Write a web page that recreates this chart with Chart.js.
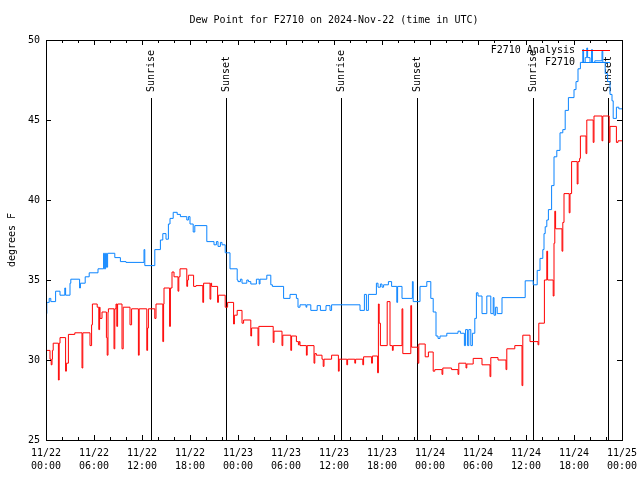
<!DOCTYPE html>
<html>
<head>
<meta charset="utf-8">
<script src="https://cdn.jsdelivr.net/npm/chart.js@4/dist/chart.umd.min.js"></script>
<style>
html,body{margin:0;padding:0;background:#fff;}
#wrap{width:640px;height:480px;}
</style>
</head>
<body>
<div id="wrap"><canvas id="c" width="640" height="480"></canvas></div>
<script>
// hours since 2024-11-22 00:00 UTC
const f2710Hours = [0.0,0.1,0.4,0.6,1.2,1.75,2.35,2.45,3.0,3.1,4.2,4.3,4.9,5.4,6.5,7.2,7.3,7.45,7.55,7.7,8.6,9.3,10.0,12.25,12.35,13.6,14.3,14.6,15.0,15.3,15.5,15.9,16.4,16.8,17.6,17.8,18.0,18.4,18.6,20.1,21.0,21.3,21.5,21.8,22.0,22.4,23.0,23.9,24.0,24.3,24.5,25.1,25.3,25.6,26.3,26.65,26.75,27.6,28.1,28.3,29.7,30.5,31.3,31.5,31.75,32.5,32.6,33.1,33.9,34.3,35.0,35.5,35.7,39.25,39.8,40.05,40.3,41.3,41.5,41.8,42.0,42.2,42.8,43.2,43.85,43.95,44.5,45.8,45.9,46.75,47.6,48.1,48.4,48.75,49.0,49.25,50.1,51.5,51.8,52.3,52.45,52.7,52.85,53.1,53.3,53.6,53.8,54.0,54.5,55.1,55.6,55.9,56.0,56.2,56.4,57.0,59.9,60.9,61.4,61.75,62.1,62.25,62.4,62.6,62.8,63.2,63.5,63.85,64.25,64.6,64.9,65.3,66.0,66.25,66.5,66.8,67.1,67.2,67.4,67.6,67.7,68.0,68.2,68.3,68.6,69.5,69.6,69.9,70.2,70.5,70.75,70.9,71.3,71.6,72.0];
const f2710Dew = [32.9,33.6,33.85,33.65,34.3,34.05,34.5,34.05,34.8,35.05,34.5,34.8,35.2,35.45,35.7,36.67,35.7,36.67,35.8,36.67,36.4,36.15,36.1,36.9,35.9,36.9,37.5,37.9,37.55,38.5,38.85,39.23,39.1,38.96,38.75,38.96,38.5,38.0,38.4,37.4,37.2,37.4,37.1,37.35,37.2,36.7,35.7,35.0,34.9,35.05,34.8,35.0,34.9,34.75,35.05,34.75,35.05,35.3,34.7,34.6,33.85,34.1,33.85,33.3,33.45,33.3,33.45,33.1,33.4,33.1,33.4,33.1,33.45,33.1,34.1,33.1,34.1,34.8,34.55,34.75,34.55,34.7,34.9,34.6,33.6,34.6,33.85,34.9,33.65,34.6,34.9,33.85,33.0,31.5,31.35,31.5,31.67,31.8,31.67,30.9,31.9,30.9,31.9,30.9,31.67,32.6,34.2,34.0,32.9,34.0,32.9,33.9,32.8,33.3,32.9,33.9,34.95,34.7,35.6,36.35,36.9,37.9,38.33,38.75,39.4,40.9,42.7,43.1,44.2,44.4,45.6,46.4,46.9,47.4,48.2,48.6,49.4,48.6,48.9,49.5,48.9,48.6,49.4,48.6,48.7,49.3,48.6,47.9,47.4,46.6,46.2,45.1,45.8,45.7,45.7];

const analysisHours = [0.0,0.5,0.65,0.75,0.8,0.9,1.55,1.65,1.75,2.45,2.55,2.8,3.6,4.5,4.6,5.5,5.7,5.8,6.4,6.6,6.7,6.75,7.0,7.55,7.65,7.75,7.8,8.5,8.6,8.75,8.85,8.95,9.5,9.65,10.5,10.7,11.55,11.65,12.6,12.7,12.8,13.6,13.75,14.6,14.7,14.75,15.45,15.55,15.75,16.0,16.5,16.6,16.75,17.6,17.7,17.8,18.45,18.75,19.6,19.7,20.5,20.6,20.7,21.45,21.55,22.4,22.7,23.45,23.55,23.9,24.5,24.7,25.6,25.7,26.5,26.6,28.4,28.5,29.5,29.6,30.6,30.7,31.3,31.55,31.65,31.75,32.55,32.65,33.5,33.6,33.8,34.5,34.65,34.75,35.7,36.55,36.65,37.6,37.7,38.6,38.7,39.6,39.7,40.7,40.8,41.45,41.55,41.65,41.8,42.65,43.0,43.3,43.4,44.5,44.6,45.6,45.7,46.5,46.6,47.4,47.8,48.4,48.6,49.5,49.6,50.7,51.5,51.6,52.5,52.6,53.4,54.5,55.5,55.6,56.5,57.5,57.6,58.6,59.5,59.6,60.5,61.5,61.6,62.3,62.6,62.7,63.4,63.5,63.6,63.7,64.5,64.6,64.75,65.4,65.5,65.7,66.4,66.5,66.7,66.8,67.5,67.6,68.4,68.5,69.5,69.6,70.4,70.5,71.3,71.5,72.0];
const analysisDew = [30.6,30.05,29.7,30.05,30.6,31.05,28.75,31.05,31.4,29.3,29.8,31.6,31.7,29.5,31.7,30.9,32.2,33.5,33.3,31.9,33.3,32.6,33.0,31.4,30.3,33.0,33.2,30.7,33.2,33.5,32.1,33.5,30.7,33.3,32.2,33.2,30.3,33.2,30.6,32.0,33.2,32.6,33.5,31.15,33.5,34.5,32.1,34.5,35.5,35.2,34.3,35.2,35.7,34.6,35.0,35.3,34.6,34.65,33.6,34.8,33.8,34.8,34.6,33.6,34.05,33.3,33.6,32.25,32.8,33.1,32.3,32.5,31.5,32.0,30.9,32.1,31.1,31.8,30.9,31.55,30.6,31.5,31.15,30.95,31.15,30.9,30.3,30.9,29.8,30.4,30.3,30.05,29.6,30.05,30.3,29.3,30.05,29.7,30.05,29.8,30.05,29.7,30.2,29.8,30.25,29.2,33.5,32.3,30.9,33.65,30.9,30.6,30.9,33.2,30.4,33.4,30.8,29.8,31.0,30.2,30.5,29.3,29.4,29.1,29.5,29.4,29.1,29.8,29.5,29.75,30.1,29.7,28.96,30.15,30.0,29.4,30.7,30.9,28.4,31.55,31.15,30.95,32.3,35.0,36.8,35.0,34.0,37.3,39.3,38.2,36.8,38.6,40.4,39.2,40.4,42.4,41.0,42.4,42.6,44.0,42.9,45.0,43.6,45.25,43.7,45.25,43.6,44.6,43.6,43.7,43.7];

const sunHours = [13.09, 22.46, 36.88, 46.41, 60.9, 70.29];
const sunLabels = ['Sunrise','Sunset','Sunrise','Sunset','Sunrise','Sunset'];

const dayLabels = ['11/22','11/22','11/22','11/22','11/23','11/23','11/23','11/23','11/24','11/24','11/24','11/24','11/25'];
const timeLabels = ['00:00','06:00','12:00','18:00','00:00','06:00','12:00','18:00','00:00','06:00','12:00','18:00','00:00'];

const titleText = 'Dew Point for F2710 on 2024-Nov-22 (time in UTC)';
const yTitle = 'degrees F';
const seriesNames = ['F2710 Analysis', 'F2710'];
const seriesColors = ['#ff0000', '#0a84ff'];

const FONT = '"DejaVu Sans Mono", "Liberation Mono", monospace';

function toPoints(xs, ys){ return xs.map((x,i)=>({x:x, y:ys[i]})); }

const decor = {
  id: 'decor',
  beforeDatasetsDraw(chart){
    const ctx = chart.ctx, xs = chart.scales.x, ys = chart.scales.y;
    ctx.save();
    ctx.strokeStyle = '#000'; ctx.lineWidth = 1;
    ctx.fillStyle = '#000';
    ctx.font = '10px ' + FONT;
    sunHours.forEach((h,i)=>{
      const px = Math.round(xs.getPixelForValue(h)) + 0.5;
      ctx.beginPath();
      ctx.moveTo(px, 98);
      ctx.lineTo(px, ys.bottom);
      ctx.stroke();
      ctx.save();
      ctx.translate(px, 92);
      ctx.rotate(-Math.PI/2);
      ctx.textAlign = 'left'; ctx.textBaseline = 'middle';
      ctx.fillText(sunLabels[i], 0, 0);
      ctx.restore();
    });
    ctx.restore();
  },
  afterDraw(chart){
    const ctx = chart.ctx, xs = chart.scales.x, ys = chart.scales.y;
    const L = xs.left, R = xs.right, T = ys.top, B = ys.bottom;
    ctx.save();
    ctx.strokeStyle = '#000'; ctx.lineWidth = 1;
    ctx.strokeRect(Math.round(L)+0.5, Math.round(T)+0.5, Math.round(R-L), Math.round(B-T));
    ctx.beginPath();
    for (let h = 0; h <= 72; h += 2) {
      const px = Math.round(xs.getPixelForValue(h)) + 0.5;
      const len = (h % 6 === 0) ? 5 : 3;
      ctx.moveTo(px, B); ctx.lineTo(px, B - len);
      ctx.moveTo(px, T); ctx.lineTo(px, T + len);
    }
    for (let v = 25; v <= 50; v += 5) {
      const py = Math.round(ys.getPixelForValue(v)) + 0.5;
      ctx.moveTo(L, py); ctx.lineTo(L + 5, py);
      ctx.moveTo(R, py); ctx.lineTo(R - 5, py);
    }
    ctx.stroke();
    // title
    ctx.fillStyle = '#000';
    ctx.font = '10px ' + FONT;
    ctx.textAlign = 'center'; ctx.textBaseline = 'middle';
    ctx.fillText(titleText, (L + R) / 2, 20);
    // legend
    ctx.textAlign = 'right';
    seriesNames.forEach((n,i)=>{
      const y = 50 + i * 12;
      ctx.fillStyle = '#000';
      ctx.fillText(n, 575, y);
      ctx.strokeStyle = seriesColors[i];
      ctx.lineWidth = 1;
      ctx.beginPath();
      ctx.moveTo(582, y + 0.5); ctx.lineTo(610, y + 0.5);
      ctx.stroke();
    });
    ctx.restore();
  }
};

new Chart(document.getElementById('c'), {
  type: 'line',
  data: {
    datasets: [
      { label: seriesNames[1], data: toPoints(f2710Hours, f2710Dew), borderColor: seriesColors[1], borderWidth: 1, pointRadius: 0, stepped: true, fill: false },
      { label: seriesNames[0], data: toPoints(analysisHours, analysisDew), borderColor: seriesColors[0], borderWidth: 1, pointRadius: 0, stepped: true, fill: false }
    ]
  },
  options: {
    responsive: false,
    devicePixelRatio: 1,
    animation: false,
    events: [],
    layout: { padding: { top: 40, right: 18, left: 0, bottom: 0 } },
    plugins: { legend: { display: false }, tooltip: { enabled: false }, title: { display: false } },
    scales: {
      x: {
        type: 'linear', min: 0, max: 72,
        grid: { display: false, drawTicks: false, tickLength: 0 },
        border: { display: false },
        ticks: {
          stepSize: 6, autoSkip: false, maxRotation: 0, padding: 7,
          color: '#000', font: { family: FONT, size: 10, lineHeight: 1.3 },
          callback: (v) => { const i = Math.round(v / 6); return [dayLabels[i], timeLabels[i]]; }
        },
        afterFit: (s) => { s.height = 40; s.paddingLeft = 0; s.paddingRight = 0; }
      },
      y: {
        min: 25, max: 50,
        grid: { display: false, drawTicks: false, tickLength: 0 },
        border: { display: false },
        ticks: { stepSize: 5, padding: 6, color: '#000', font: { family: FONT, size: 10 } },
        title: { display: true, text: yTitle, color: '#000', font: { family: FONT, size: 10 }, padding: { top: 6, bottom: 0 } },
        afterFit: (s) => { s.width = 46; s.paddingTop = 0; s.paddingBottom = 0; }
      }
    }
  },
  plugins: [decor]
});
</script>
</body>
</html>
